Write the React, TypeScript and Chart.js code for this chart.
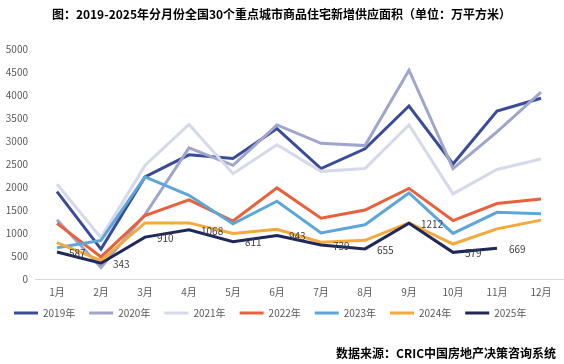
import React, { useEffect, useRef } from "react";
import { Chart, registerables } from "chart.js";

Chart.register(...registerables);

const months = ["1月", "2月", "3月", "4月", "5月", "6月", "7月", "8月", "9月", "10月", "11月", "12月"];
const seriesNames = ["2019年", "2020年", "2021年", "2022年", "2023年", "2024年", "2025年"];
const colors = ["#3A4C98", "#9EA6CD", "#D6D9EA", "#E8603C", "#5EA6DA", "#F4A93A", "#1F2858"];

const v2019 = [1900, 650, 2220, 2700, 2620, 3270, 2400, 2830, 3760, 2500, 3650, 3930];
const v2020 = [1290, 250, 1400, 2850, 2470, 3350, 2950, 2900, 4540, 2400, 3200, 4060];
const v2021 = [2060, 900, 2470, 3360, 2290, 2920, 2340, 2400, 3350, 1850, 2380, 2610];
const v2022 = [1210, 480, 1380, 1720, 1260, 1980, 1320, 1500, 1970, 1270, 1640, 1740];
const v2023 = [680, 840, 2220, 1820, 1200, 1690, 1000, 1180, 1870, 990, 1450, 1420];
const v2024 = [790, 400, 1220, 1220, 990, 1080, 800, 840, 1220, 760, 1090, 1280];
const v2025 = [587, 343, 910, 1068, 811, 943, 739, 655, 1212, 579, 669];

const allValues = [v2019, v2020, v2021, v2022, v2023, v2024, v2025];

const titleText = "图：2019-2025年分月份全国30个重点城市商品住宅新增供应面积（单位：万平方米）";
const sourceText = "数据来源：CRIC中国房地产决策咨询系统";

const FONT = "'Noto Sans CJK SC', 'Noto Sans', sans-serif";

const labelPlugin = {
  id: "valueLabels",
  afterLayout(chart: any) {
    const lg = chart.legend;
    if (lg) {
      lg.top -= 6;
      lg.bottom -= 6;
    }
  },
  afterDatasetsDraw(chart: any) {
    const ctx = chart.ctx;
    const idx = 6;
    const meta = chart.getDatasetMeta(idx);
    if (!meta || meta.hidden) return;
    ctx.save();
    ctx.font = `10px ${FONT}`;
    ctx.fillStyle = "#404040";
    ctx.textAlign = "left";
    ctx.textBaseline = "middle";
    meta.data.forEach((pt: any, i: number) => {
      const v = chart.data.datasets[idx].data[i];
      if (v == null) return;
      ctx.fillText(String(v), pt.x + 12, pt.y + 1);
    });
    ctx.restore();
  },
  afterDraw(chart: any) {
    const ctx = chart.ctx;
    ctx.save();
    ctx.font = `bold 12px ${FONT}`;
    ctx.fillStyle = "#000000";
    ctx.textAlign = "right";
    ctx.textBaseline = "middle";
    ctx.fillText(sourceText, 556, 353);
    ctx.restore();
  },
};

export default function App() {
  const ref = useRef<HTMLCanvasElement | null>(null);
  useEffect(() => {
    if (!ref.current) return;
    const chart = new Chart(ref.current, {
      type: "line",
      data: {
        labels: months,
        datasets: allValues.map((vals, i) => ({
          label: seriesNames[i],
          data: vals,
          borderColor: colors[i],
          backgroundColor: colors[i],
          borderWidth: 3,
          pointRadius: 0,
          pointHoverRadius: 0,
          tension: 0,
          fill: false,
          order: 6 - i,
        })),
      },
      options: {
        animation: false,
        responsive: false,
        maintainAspectRatio: false,
        layout: { padding: { left: 0, right: 1, top: 0, bottom: 30 } },
        plugins: {
          title: {
            display: true,
            text: titleText,
            color: "#000000",
            font: { family: FONT, size: 12, weight: "bold" },
            padding: { top: 7, bottom: 27.6 },
          },
          legend: {
            display: true,
            position: "bottom",
            align: "start",
            labels: {
              boxWidth: 24,
              boxHeight: 3,
              padding: 14,
              color: "#595959",
              font: { family: FONT, size: 10 },
              sort: (a: any, b: any) => a.datasetIndex - b.datasetIndex,
              generateLabels: (chart: any) => {
                const items = Chart.defaults.plugins.legend.labels.generateLabels(chart);
                return items.map((it: any) => ({ ...it, lineWidth: 0, fillStyle: colors[it.datasetIndex] }));
              },
            },
          },
          tooltip: { enabled: false },
        },
        scales: {
          x: {
            offset: true,
            grid: { display: false, drawTicks: false, offset: true },
            border: { display: true, color: "#D9D9D9", width: 1 },
            ticks: { color: "#595959", font: { family: FONT, size: 10 }, padding: 7, maxRotation: 0 },
            afterFit: (s: any) => { s.height = 21; },
          },
          y: {
            min: 0,
            max: 5000,
            grid: { display: false, drawTicks: false },
            border: { display: false },
            ticks: {
              stepSize: 500,
              color: "#595959",
              font: { family: FONT, size: 10 },
              padding: 7,
              callback: (v: any) => String(v),
            },
            afterFit: (s: any) => { s.width = 35; },
          },
        },
      },
      plugins: [labelPlugin],
    });
    return () => chart.destroy();
  }, []);
  return (
    <div style={{ position: "fixed", left: 0, top: 0, width: 564, height: 364, background: "#fff" }}>
      <canvas ref={ref} width={564} height={364} style={{ width: 564, height: 364 }} />
    </div>
  );
}
